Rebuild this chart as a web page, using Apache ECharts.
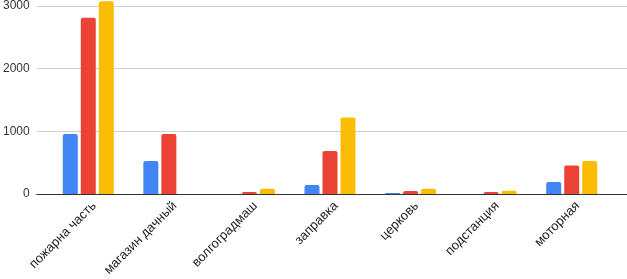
<!DOCTYPE html>
<html><head><meta charset="utf-8">
<script src="https://cdn.jsdelivr.net/npm/echarts@6/dist/echarts.min.js"></script>
<style>html,body{margin:0;padding:0;background:#fff}#c{width:627px;height:279px}</style>
</head><body><div id="c"></div>
<script>
const categories = ['пожарна часть','магазин дачный','волгоградмаш','заправка','церковь','подстанция','моторная'];
const seriesA = [952, 524, 0, 143, 16, 0, 190];
const seriesB = [2798, 952, 32, 683, 48, 32, 454];
const seriesC = [3060, 0, 84, 1216, 84, 52, 524];
const yTicks = [0, 1000, 2000, 3000];
const colors = ['#4285F4', '#EA4335', '#FBBC04'];

const chart = echarts.init(document.getElementById('c'));
const font = '"Liberation Sans", Arial, sans-serif';
function bar(data, color) {
  return {type:'bar', data:data, barWidth:15, barGap:'20%', xAxisIndex:0, yAxisIndex:0, clip:false,
    itemStyle:{color:color, borderRadius:[2,2,0,0]}, silent:true};
}
chart.setOption({
  animation:false,
  grid:[
    {left:48, right:15, top:5, bottom:85},
    {left:35, right:0, top:5, bottom:85},
    {left:54, right:9, top:5, bottom:85}
  ],
  xAxis:[
    {type:'category', gridIndex:0, data:categories, axisLine:{show:false}, axisTick:{show:false}, axisLabel:{show:false}},
    {type:'value', gridIndex:1, min:0, max:1, show:true, axisLine:{show:true, onZero:false, lineStyle:{color:'#333', width:1}},
     axisTick:{show:false}, axisLabel:{show:false}, splitLine:{show:false}},
    {type:'category', gridIndex:2, data:categories, axisLine:{show:false}, axisTick:{show:false},
     axisLabel:{rotate:45, fontSize:13, color:'#222', fontFamily:font, margin:10, interval:0}}
  ],
  yAxis:[
    {type:'value', gridIndex:0, min:yTicks[0], max:yTicks[yTicks.length-1], interval:1000, show:false, splitLine:{show:false}},
    {type:'value', gridIndex:1, min:yTicks[0], max:yTicks[yTicks.length-1], interval:1000,
     axisLine:{show:false}, axisTick:{show:false},
     axisLabel:{fontSize:12, color:'#333', fontFamily:font, margin:7, formatter:function(v){return String(v);}},
     splitLine:{show:true, lineStyle:{color:'#d0d0d0', width:1}}},
    {type:'value', gridIndex:2, min:0, max:1, show:false}
  ],
  series:[bar(seriesA, colors[0]), bar(seriesB, colors[1]), bar(seriesC, colors[2])]
});
</script></body></html>
